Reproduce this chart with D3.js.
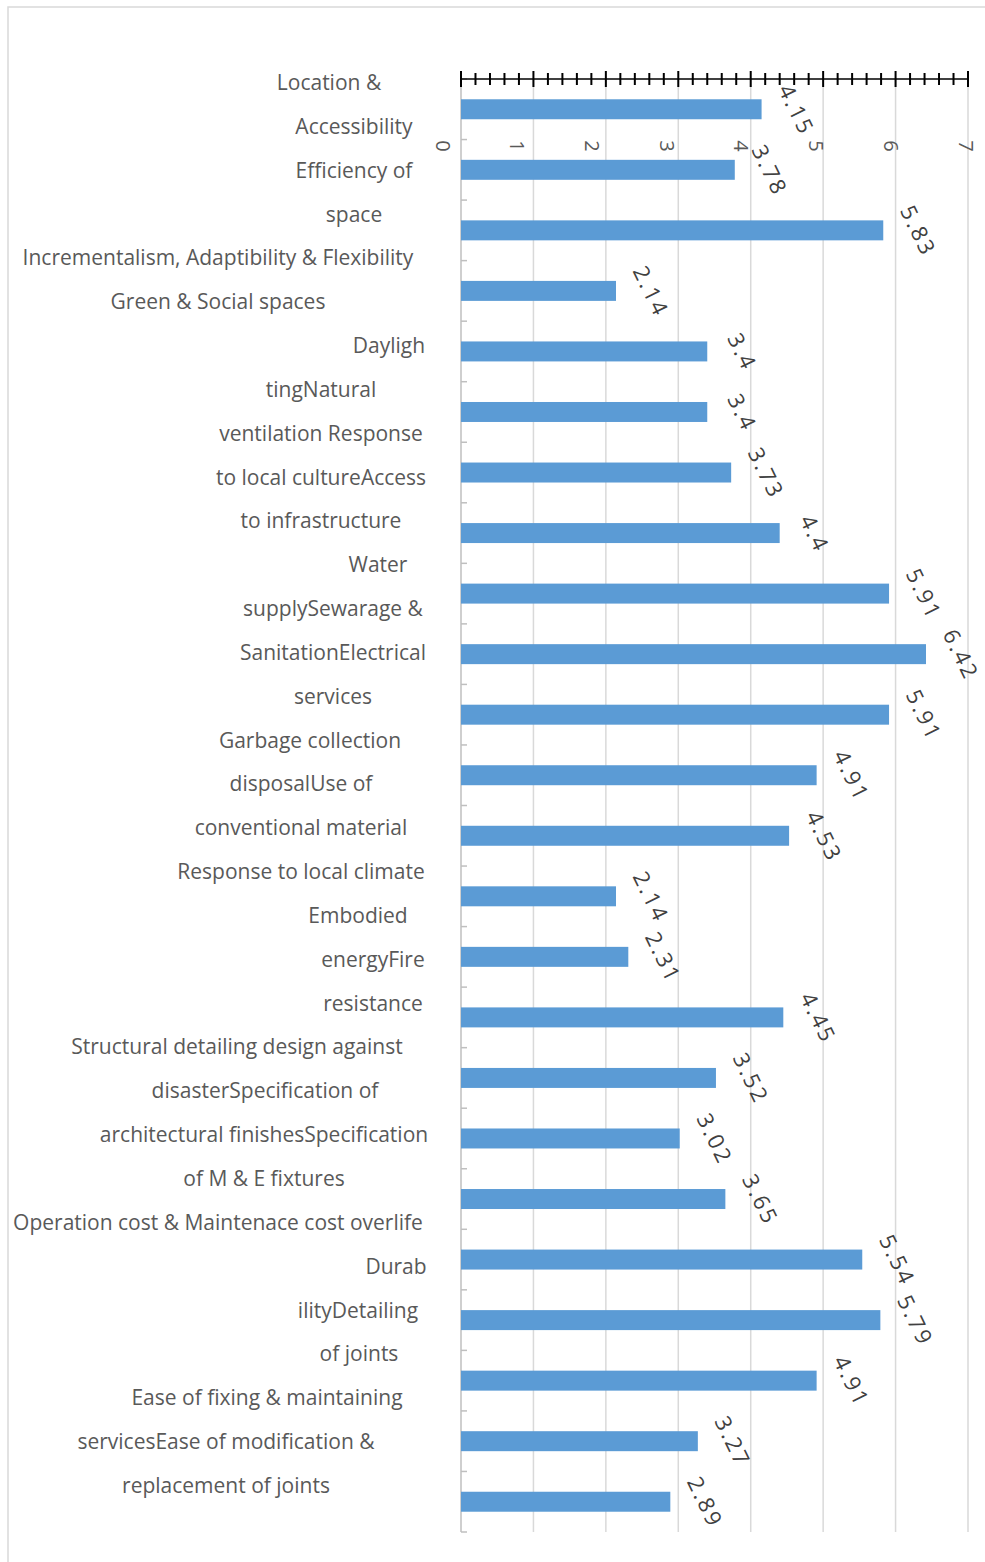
<!DOCTYPE html>
<html>
<head>
<meta charset="utf-8">
<script src="https://cdn.jsdelivr.net/npm/d3@7"></script>
<style>
  body { margin: 0; background: #fff; }
  svg { display: block; }
</style>
</head>
<body>
<script>
// bar values, top to bottom
var values = [4.15, 3.78, 5.83, 2.14, 3.4, 3.4, 3.73, 4.4, 5.91, 6.42, 5.91, 4.91,
              4.53, 2.14, 2.31, 4.45, 3.52, 3.02, 3.65, 5.54, 5.79, 4.91, 3.27, 2.89]

// the category text as it was broken into lines in the original
var labelLines = ['Location &', 'Accessibility', 'Efficiency of', 'space',
  'Incrementalism, Adaptibility & Flexibility', 'Green & Social spaces',
  'Dayligh', 'tingNatural', 'ventilation Response', 'to local cultureAccess',
  'to infrastructure', 'Water', 'supplySewarage &', 'SanitationElectrical',
  'services', 'Garbage collection', 'disposalUse of', 'conventional material',
  'Response to local climate', 'Embodied', 'energyFire', 'resistance',
  'Structural detailing design against', 'disasterSpecification of',
  'architectural finishesSpecification', 'of M & E fixtures',
  'Operation cost & Maintenace cost overlife', 'Durab', 'ilityDetailing',
  'of joints', 'Ease of fixing & maintaining', 'servicesEase of modification &',
  'replacement of joints']

// horizontal centre of each label line (layout)
var labelCenters = [329, 354, 354, 354, 218, 218, 389, 321, 321, 321, 321, 378,
  333, 333, 333, 310, 301, 301, 301, 358, 373, 373, 237, 265, 264, 264, 218,
  396, 358, 359, 267, 226, 226]

var xTicks = [0, 1, 2, 3, 4, 5, 6, 7]

var width = 985, height = 1562
var margin = {left: 461, right: 17, top: 79, bottom: 30}

var svg = d3.select('body').append('svg').attr('width', width).attr('height', height)

// chart frame
svg.append('path')
    .attr('d', `M8,${height} L8,7 L${width},7`)
    .attr('fill', 'none').attr('stroke', '#d9d9d9').attr('stroke-width', 1.5)

var x = d3.scaleLinear().domain([0, 7]).range([margin.left, width - margin.right])
var y = d3.scaleBand().domain(d3.range(values.length))
    .range([margin.top, height - margin.bottom]).paddingInner(0.67).paddingOuter(0.335)
var yBand = d3.scaleBand().domain(d3.range(values.length))
    .range([margin.top, height - margin.bottom])

// tick numbers sit slightly spread out compared with the gridlines
var xLab = d3.scaleLinear().domain([0, 7]).range([443, 966])

// gridlines
svg.append('g').selectAll('line').data(xTicks.slice(1)).join('line')
    .attr('x1', d => x(d)).attr('x2', d => x(d))
    .attr('y1', margin.top).attr('y2', height - margin.bottom)
    .attr('stroke', '#d9d9d9').attr('stroke-width', 1.5)

// left category axis
var left = svg.append('g')
left.append('line')
    .attr('x1', x(0)).attr('x2', x(0)).attr('y1', margin.top).attr('y2', height - margin.bottom)
    .attr('stroke', '#bfbfbf').attr('stroke-width', 1.5)
var halfSteps = d3.range(values.length * 2 + 1).map(i => margin.top + i * yBand.step() / 2)
left.selectAll('.ct').data(halfSteps).join('line').attr('class', 'ct')
    .attr('x1', x(0)).attr('x2', x(0) + 6)
    .attr('y1', d => d).attr('y2', d => d)
    .attr('stroke', '#bfbfbf').attr('stroke-width', 1.5)

// bars
svg.append('g').selectAll('rect').data(values).join('rect')
    .attr('x', x(0))
    .attr('y', (d, i) => y(i))
    .attr('width', d => x(d) - x(0))
    .attr('height', y.bandwidth())
    .attr('fill', '#5b9bd5')

// top value axis: major ticks on integers, minor every 0.2
var axis = svg.append('g')
axis.append('line')
    .attr('x1', x(0)).attr('x2', x(7)).attr('y1', margin.top).attr('y2', margin.top)
    .attr('stroke', '#000').attr('stroke-width', 1.5)
var minor = d3.range(0, 35).map(i => i / 5).filter(d => d % 1 !== 0)
axis.selectAll('.mn').data(minor).join('line').attr('class', 'mn')
    .attr('x1', d => x(d)).attr('x2', d => x(d))
    .attr('y1', margin.top - 6).attr('y2', margin.top + 6)
    .attr('stroke', '#000').attr('stroke-width', 2)
axis.selectAll('.mj').data(xTicks).join('line').attr('class', 'mj')
    .attr('x1', d => x(d)).attr('x2', d => x(d))
    .attr('y1', margin.top - 8).attr('y2', margin.top + 8)
    .attr('stroke', '#000').attr('stroke-width', 2)

axis.selectAll('text').data(xTicks).join('text')
    .attr('transform', d => `translate(${xLab(d)},146) rotate(90)`)
    .attr('text-anchor', 'middle').attr('dominant-baseline', 'central')
    .attr('font-family', 'Open Sans, sans-serif').attr('font-size', 20)
    .attr('fill', '#595959')
    .text(d => d)

// value labels, tilted
svg.append('g').selectAll('text').data(values).join('text')
    .attr('transform', (d, i) => `translate(${x(d) + 36},${y(i) + y.bandwidth() / 2}) rotate(64)`)
    .attr('text-anchor', 'middle').attr('dominant-baseline', 'central')
    .attr('font-family', 'Open Sans, sans-serif').attr('font-size', 22)
    .attr('letter-spacing', 2.5)
    .attr('fill', '#404040')
    .text(d => d)

// category text lines
svg.append('g').selectAll('text').data(labelLines).join('text')
    .attr('x', (d, i) => labelCenters[i])
    .attr('y', (d, i) => 82 + i * 43.84)
    .attr('text-anchor', 'middle').attr('dominant-baseline', 'central')
    .attr('font-family', 'Open Sans, sans-serif').attr('font-size', 21)
    .attr('fill', '#595959')
    .text(d => d)
</script>
</body>
</html>
